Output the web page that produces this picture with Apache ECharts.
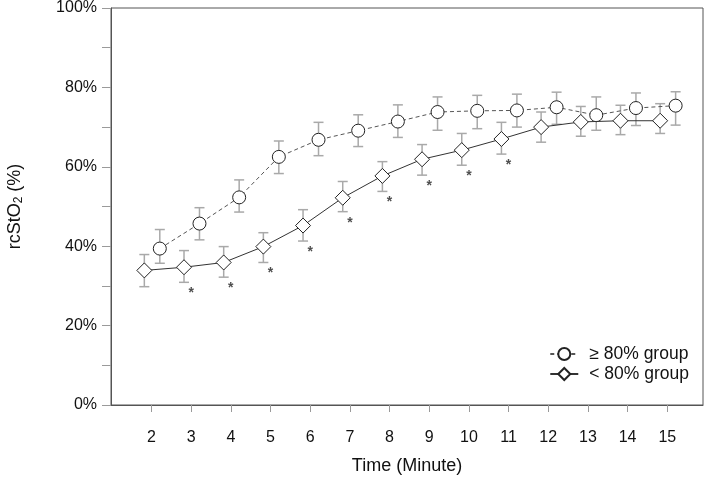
<!DOCTYPE html>
<html><head><meta charset="utf-8">
<script src="https://cdn.jsdelivr.net/npm/echarts@6/dist/echarts.min.js"></script>
<style>html,body{margin:0;padding:0;background:#fff}#c{width:709px;height:481px}</style>
</head><body><div id="c"></div>
<script>
// ---- data ----
const minutes = [2, 3, 4, 5, 6, 7, 8, 9, 10, 11, 12, 13, 14, 15];
const highName = '≥ 80% group';
const highMean  = [39.4, 45.7, 52.3, 62.5, 66.8, 69.1, 71.4, 73.8, 74.1, 74.2, 75.0, 73.0, 74.8, 75.4];
const highUpper = [44.2, 49.7, 56.7, 66.5, 71.2, 73.1, 75.6, 77.6, 78.0, 78.3, 78.8, 77.6, 78.6, 78.9];
const highLower = [35.7, 41.6, 48.6, 58.3, 62.8, 65.1, 67.4, 69.2, 69.6, 70.0, 70.7, 69.2, 70.4, 70.5];
const lowName = '< 80% group';
const lowMean  = [33.9, 34.7, 35.9, 39.9, 45.2, 52.2, 57.7, 61.9, 64.2, 67.0, 70.0, 71.3, 71.6, 71.6];
const lowUpper = [37.9, 38.9, 39.9, 43.4, 49.2, 56.3, 61.3, 65.6, 68.4, 71.2, 73.8, 75.2, 75.5, 75.9];
const lowLower = [29.8, 30.9, 32.2, 35.9, 41.3, 48.7, 53.8, 57.9, 60.4, 63.2, 66.2, 67.7, 68.1, 68.4];
const significantMinutes = [3, 4, 5, 6, 7, 8, 9, 10, 11];
const yTicks = [0, 10, 20, 30, 40, 50, 60, 70, 80, 90, 100];
const yTickLabels = ['0%', '20%', '40%', '60%', '80%', '100%'];

// ---- style constants ----
const HIGH_DODGE = 0.21, LOW_DODGE = -0.18;
const FONT = 'Liberation Sans, Arial, sans-serif';
const ERR_COLOR = '#a9a9a9';

function errRender(params, api) {
  const x = api.value(0), lo = api.value(1), hi = api.value(2);
  const pLo = api.coord([x, lo]), pHi = api.coord([x, hi]);
  const w = 5;
  const style = { stroke: ERR_COLOR, lineWidth: 1.5 };
  return { type: 'group', children: [
    { type: 'line', shape: { x1: pLo[0], y1: pLo[1], x2: pHi[0], y2: pHi[1] }, style },
    { type: 'line', shape: { x1: pHi[0] - w, y1: pHi[1], x2: pHi[0] + w, y2: pHi[1] }, style },
    { type: 'line', shape: { x1: pLo[0] - w, y1: pLo[1], x2: pLo[0] + w, y2: pLo[1] }, style }
  ]};
}

const highErr = minutes.map((m, i) => [m + HIGH_DODGE, highLower[i], highUpper[i]]);
const lowErr = minutes.map((m, i) => [m + LOW_DODGE, lowLower[i], lowUpper[i]]);
const highPts = minutes.map((m, i) => [m + HIGH_DODGE, highMean[i]]);
const lowPts = minutes.map((m, i) => [m + LOW_DODGE, lowMean[i]]);
const starPts = significantMinutes.map(m => [m, lowLower[minutes.indexOf(m)]]);

const chart = echarts.init(document.getElementById('c'), null, { renderer: 'canvas' });
chart.setOption({
  animation: false,
  backgroundColor: '#fff',
  textStyle: { fontFamily: FONT },
  grid: { left: 111, right: 6, top: 8, bottom: 76, containLabel: false, outerBoundsMode: 'none',
          show: true, borderColor: '#555', borderWidth: 1, backgroundColor: 'transparent' },
  xAxis: {
    type: 'value', min: 0.98, max: 15.9,
    name: 'Time (Minute)', nameLocation: 'middle', nameGap: 52,
    nameTextStyle: { fontSize: 18, color: '#111', fontFamily: FONT },
    axisLine: { show: true, lineStyle: { color: '#555' } },
    axisTick: { show: true, length: 7, customValues: minutes, lineStyle: { color: '#9a9a9a' } },
    axisLabel: { customValues: minutes, margin: 25, fontSize: 16, color: '#111', fontFamily: FONT },
    splitLine: { show: false }
  },
  yAxis: {
    type: 'value', min: 0, max: 100, interval: 10,
    name: '{a|rcStO}{s|2}{a| (%)}', nameLocation: 'middle', nameGap: 86, nameRotate: 90,
    nameTextStyle: { rich: {
      a: { fontSize: 18, color: '#111', fontFamily: FONT },
      s: { fontSize: 12, color: '#111', fontFamily: FONT, padding: [8, 0, 0, 0] }
    } },
    axisLine: { show: true, lineStyle: { color: '#555' } },
    axisTick: { show: true, length: 9, customValues: yTicks, lineStyle: { color: '#9a9a9a' } },
    axisLabel: {
      margin: 14, fontSize: 16, color: '#111', fontFamily: FONT,
      formatter: v => (v % 20 === 0 ? yTickLabels[v / 20] : '')
    },
    splitLine: { show: false }
  },
  legend: {
    orient: 'vertical', right: 15, top: 340,
    itemWidth: 28, itemHeight: 15, itemGap: 2,
    data: [highName, lowName],
    textStyle: { fontSize: 17.5, color: '#111', fontFamily: FONT, padding: [0, 0, 0, 6] }
  },
  series: [
    { type: 'custom', name: 'errHigh', renderItem: errRender, data: highErr, encode: { x: 0, y: [1, 2] }, z: 2, silent: true },
    { type: 'custom', name: 'errLow', renderItem: errRender, data: lowErr, encode: { x: 0, y: [1, 2] }, z: 2, silent: true },
    {
      type: 'line', name: highName, data: highPts, z: 3,
      symbol: 'circle', symbolSize: 13,
      lineStyle: { color: '#555', width: 1, type: [4, 3] },
      itemStyle: { color: '#fff', borderColor: '#222', borderWidth: 1 }
    },
    {
      type: 'line', name: lowName, data: lowPts, z: 4,
      symbol: 'diamond', symbolSize: 15,
      lineStyle: { color: '#333', width: 1, type: 'solid' },
      itemStyle: { color: '#fff', borderColor: '#222', borderWidth: 1 }
    },
    {
      type: 'scatter', name: 'sig', data: starPts, symbolSize: 0, z: 5, silent: true,
      label: { show: true, formatter: '*', position: 'inside', offset: [0, 11], fontSize: 14, color: '#222', fontWeight: 'bold', fontFamily: FONT }
    }
  ]
});
</script>
</body></html>
